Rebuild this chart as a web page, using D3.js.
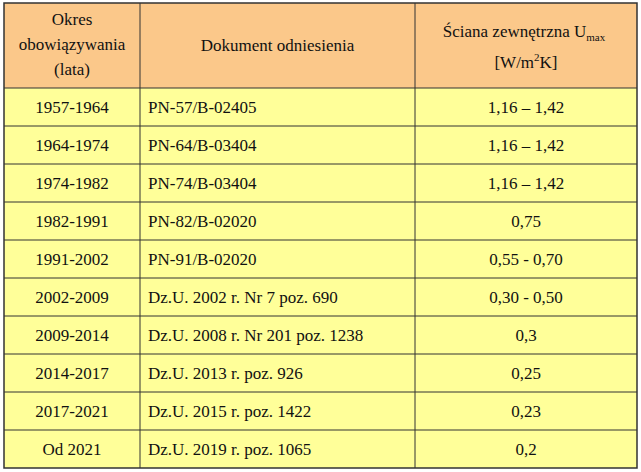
<!DOCTYPE html>
<html><head><meta charset="utf-8">
<script src="https://cdn.jsdelivr.net/npm/d3@7"></script>
<style>body{margin:0;background:#fff}</style></head>
<body><svg id="c" width="641" height="472"></svg>
<script>
const periods=["1957-1964","1964-1974","1974-1982","1982-1991","1991-2002","2002-2009","2009-2014","2014-2017","2017-2021","Od 2021"];
const documents=["PN-57/B-02405","PN-64/B-03404","PN-74/B-03404","PN-82/B-02020","PN-91/B-02020","Dz.U. 2002 r. Nr 7 poz. 690","Dz.U. 2008 r. Nr 201 poz. 1238","Dz.U. 2013 r. poz. 926","Dz.U. 2015 r. poz. 1422","Dz.U. 2019 r. poz. 1065"];
const uValues=["1,16 – 1,42","1,16 – 1,42","1,16 – 1,42","0,75","0,55 - 0,70","0,30 - 0,50","0,3","0,25","0,23","0,2"];

const svg=d3.select("#c");
const font="'Liberation Serif','Times New Roman',serif";
const x0=4,x1=140,x2=415,x3=637,tableTop=3,headerH=85;
const y=d3.scaleBand().domain(d3.range(periods.length)).range([tableTop+headerH,468]);
svg.append("rect").attr("x",x0).attr("y",tableTop).attr("width",x3-x0).attr("height",headerH).attr("fill","#FBC88A");
svg.append("rect").attr("x",x0).attr("y",tableTop+headerH).attr("width",x3-x0).attr("height",468-tableTop-headerH).attr("fill","#FFFF99");
const g=svg.append("g").attr("font-family",font).attr("font-size",17).attr("fill","#111");
const h1=g.append("text").attr("text-anchor","middle");
["Okres","obowiązywania","(lata)"].forEach((t,i)=>h1.append("tspan").attr("x",(x0+x1)/2).attr("y",25+i*25).text(t));
g.append("text").attr("x",(x1+x2)/2).attr("y",51).attr("text-anchor","middle").text("Dokument odniesienia");
const h3=g.append("text").attr("x",(x2+x3)/2-2).attr("y",37).attr("text-anchor","middle");
h3.append("tspan").text("Ściana zewnętrzna U");
h3.append("tspan").attr("font-size",11).attr("dy",4).text("max");
const h4=g.append("text").attr("x",(x2+x3)/2).attr("y",68).attr("text-anchor","middle");
h4.append("tspan").text("[W/m");
h4.append("tspan").attr("font-size",11).attr("dy",-7).text("2");
h4.append("tspan").attr("dy",7).text("K]");
periods.forEach((p,i)=>{
  const cy=y(i)+y.bandwidth()/2+6;
  g.append("text").attr("x",(x0+x1)/2).attr("y",cy).attr("text-anchor","middle").text(p);
  g.append("text").attr("x",x1+8).attr("y",cy).text(documents[i]);
  g.append("text").attr("x",(x2+x3)/2).attr("y",cy).attr("text-anchor","middle").text(uValues[i]);
});
const lines=svg.append("g").attr("stroke","#333").attr("stroke-width",1);
[tableTop+headerH,...d3.range(1,periods.length).map(i=>y(i))].forEach(v=>lines.append("line").attr("x1",x0).attr("x2",x3).attr("y1",v).attr("y2",v));
[x1,x2].forEach(v=>lines.append("line").attr("x1",v).attr("x2",v).attr("y1",tableTop).attr("y2",468));
svg.append("rect").attr("x",x0).attr("y",tableTop).attr("width",x3-x0).attr("height",468-tableTop).attr("fill","none").attr("stroke","#333").attr("stroke-width",1.5);
</script></body></html>
